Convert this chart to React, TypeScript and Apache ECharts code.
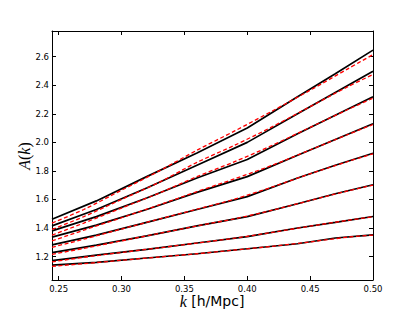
import React, { useEffect, useRef } from "react";
import * as echarts from "echarts";

// k grid of the measured (black) curves and of the fitted (red dashed) curves
const kMeasured = [0.2447, 0.28, 0.32, 0.36, 0.4, 0.44, 0.47, 0.5];
const kFit = [0.2447, 0.27, 0.3, 0.33, 0.36, 0.39, 0.42, 0.45, 0.48, 0.5];

// measured A(k), top to bottom
const measured1 = [1.462, 1.59, 1.76, 1.925, 2.1, 2.32, 2.48, 2.646];
const measured2 = [1.415, 1.53, 1.68, 1.84, 2.0, 2.2, 2.35, 2.498];
const measured3 = [1.38, 1.48, 1.61, 1.75, 1.88, 2.06, 2.19, 2.32];
const measured4 = [1.336, 1.42, 1.53, 1.65, 1.76, 1.91, 2.02, 2.131];
const measured5 = [1.282, 1.35, 1.44, 1.53, 1.62, 1.75, 1.84, 1.924];
const measured6 = [1.228, 1.28, 1.345, 1.415, 1.48, 1.57, 1.64, 1.703];
const measured7 = [1.172, 1.21, 1.25, 1.295, 1.34, 1.4, 1.44, 1.481];
const measured8 = [1.14, 1.16, 1.19, 1.22, 1.255, 1.29, 1.33, 1.352];

// fitted A(k), top to bottom
const fit1 = [1.435, 1.53, 1.665, 1.8, 1.945, 2.08, 2.22, 2.365, 2.515, 2.615];
const fit2 = [1.39, 1.48, 1.6, 1.72, 1.86, 1.98, 2.11, 2.25, 2.39, 2.475];
const fit3 = [1.35, 1.435, 1.54, 1.645, 1.76, 1.865, 1.98, 2.105, 2.23, 2.31];
const fit4 = [1.31, 1.385, 1.472, 1.562, 1.655, 1.745, 1.84, 1.947, 2.055, 2.125];
const fit5 = [1.265, 1.322, 1.393, 1.463, 1.532, 1.602, 1.688, 1.78, 1.866, 1.92];
const fit6 = [1.215, 1.258, 1.31, 1.362, 1.415, 1.465, 1.525, 1.593, 1.66, 1.7];
const fit7 = [1.163, 1.195, 1.229, 1.261, 1.295, 1.329, 1.37, 1.413, 1.454, 1.479];
const fit8 = [1.132, 1.15, 1.174, 1.197, 1.22, 1.246, 1.272, 1.303, 1.336, 1.35];

const xTicks = [0.25, 0.3, 0.35, 0.4, 0.45, 0.5];
const yTicks = [1.2, 1.4, 1.6, 1.8, 2.0, 2.2, 2.4, 2.6];

const measuredAll = [measured1, measured2, measured3, measured4, measured5, measured6, measured7, measured8];
const fitAll = [fit1, fit2, fit3, fit4, fit5, fit6, fit7, fit8];

const FONT = "DejaVu Sans";

export default function App() {
  const ref = useRef<HTMLDivElement>(null);
  useEffect(() => {
    if (!ref.current) return;
    const chart = echarts.init(ref.current, undefined, { renderer: "svg" });
    const X_MIN = 0.2447, X_MAX = 0.5, Y_MIN = 1.036, Y_MAX = 2.78;
    const axisCommon = {
      type: "value" as const,
      splitLine: { show: false },
      axisLine: { show: true, onZero: false, lineStyle: { color: "#000", width: 1 } },
    };
    const series: any[] = [];
    measuredAll.forEach((arr) => {
      series.push({
        type: "line",
        data: kMeasured.map((k, i) => [k, arr[i]]),
        showSymbol: false,
        lineStyle: { color: "#000", width: 1.7 },
        z: 2,
      });
    });
    fitAll.forEach((arr) => {
      series.push({
        type: "line",
        data: kFit.map((k, i) => [k, arr[i]]),
        showSymbol: false,
        smooth: 0.3,
        lineStyle: { color: "#ff0000", width: 1.3, type: [4, 2.5] },
        z: 3,
      });
    });
    chart.setOption({
      animation: false,
      grid: { left: 52, right: 42, top: 31, bottom: 32, containLabel: false },
      xAxis: [
        {
          ...axisCommon,
          min: X_MIN,
          max: X_MAX,
          position: "bottom",
          axisTick: { show: true, inside: true, length: 4, customValues: xTicks, lineStyle: { color: "#000" } },
          axisLabel: {
            show: true,
            customValues: xTicks,
            formatter: (v: number) => v.toFixed(2),
            fontFamily: FONT,
            fontSize: 8.5,
            color: "#000",
            margin: 4,
          },
        },
        {
          ...axisCommon,
          min: X_MIN,
          max: X_MAX,
          position: "top",
          axisTick: { show: true, inside: true, length: 4, customValues: xTicks, lineStyle: { color: "#000" } },
          axisLabel: { show: false },
        },
      ],
      yAxis: [
        {
          ...axisCommon,
          min: Y_MIN,
          max: Y_MAX,
          position: "left",
          axisTick: { show: true, inside: true, length: 4, customValues: yTicks, lineStyle: { color: "#000" } },
          axisLabel: {
            show: true,
            customValues: yTicks,
            formatter: (v: number) => v.toFixed(1),
            fontFamily: FONT,
            fontSize: 8.5,
            color: "#000",
            margin: 3,
          },
        },
        {
          ...axisCommon,
          min: Y_MIN,
          max: Y_MAX,
          position: "right",
          axisTick: { show: true, inside: true, length: 4, customValues: yTicks, lineStyle: { color: "#000" } },
          axisLabel: { show: false },
        },
      ],
      series,
      graphic: [
        {
          type: "text",
          x: 212,
          y: 301,
          style: {
            text: "{i|k} [h/Mpc]",
            fontFamily: FONT,
            fontSize: 14,
            fill: "#000",
            align: "center",
            verticalAlign: "middle",
            rich: {
              i: { fontFamily: "Liberation Serif", fontStyle: "italic", fontSize: 16, fill: "#000" },
            },
          },
        },
        {
          type: "text",
          x: 24,
          y: 156,
          rotation: Math.PI / 2,
          style: {
            text: "{i|A}({i|k})",
            fontFamily: "Liberation Serif",
            fontSize: 16,
            fill: "#000",
            align: "center",
            verticalAlign: "middle",
            rich: {
              i: { fontFamily: "Liberation Serif", fontStyle: "italic", fontSize: 16, fill: "#000" },
            },
          },
        },
      ],
    });
    return () => chart.dispose();
  }, []);
  return <div ref={ref} style={{ width: 415, height: 312, position: "absolute", left: 0, top: 0 }} />;
}
